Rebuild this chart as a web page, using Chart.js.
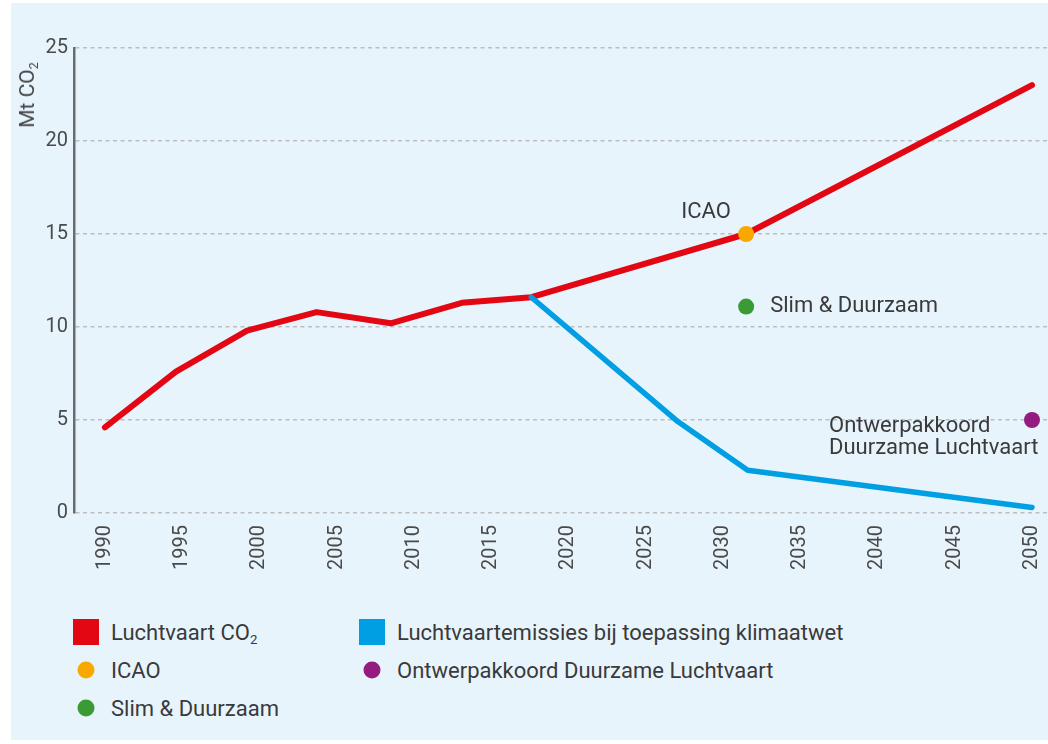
<!DOCTYPE html>
<html>
<head>
<meta charset="utf-8">
<script src="https://cdn.jsdelivr.net/npm/chart.js@4"></script>
<style>
  body { margin: 0; background: #fff; overflow: hidden; }
  #wrap { position: relative; width: 1048px; height: 744px; overflow: hidden; }
  #bg { position: absolute; left: 11px; top: 3px; width: 1037px; height: 737px; background: #e8f4fc; }
  #chart { position: absolute; left: 0; top: 0; }
  #ytitle {
    position: absolute; left: 27px; top: 95px; transform: translate(-50%, -50%) rotate(-90deg);
    font: 21px Roboto, sans-serif; color: #444; white-space: nowrap;
  }
  #ytitle sub, .lg sub { font-size: 60%; vertical-align: -4px; line-height: 0; }
  .lg { position: absolute; font: 22px Roboto, sans-serif; color: #3a3a3a; white-space: nowrap; transform: translateY(-50%); }
  .mk { position: absolute; transform: translate(-50%, -50%); }
</style>
</head>
<body>
<div id="wrap">
  <div id="bg"></div>
  <canvas id="chart" width="1057" height="600"></canvas>
  <div id="ytitle">Mt CO<sub>2</sub></div>
  <div id="legend"></div>
</div>
<script>
// tick labels
const yearTicks = [1990, 1995, 2000, 2005, 2010, 2015, 2020, 2025, 2030, 2035, 2040, 2045, 2050];

// Luchtvaart CO2 (red)
const redYears = [1990, 1994.6, 1999.2, 2003.7, 2008.5, 2013.1, 2017.6, 2031.5, 2050];
const redValues = [4.6, 7.6, 9.8, 10.8, 10.2, 11.3, 11.6, 15.0, 23.0];

// Luchtvaartemissies bij toepassing klimaatwet (blue)
const blueYears = [2017.6, 2027.1, 2031.6, 2050];
const blueValues = [11.6, 4.9, 2.3, 0.3];

// single points
const icaoPoint = { x: 2031.5, y: 15.0 };
const slimPoint = { x: 2031.5, y: 11.1 };
const ontwerpPoint = { x: 2050, y: 5.0 };

const RED = "#e30613", BLUE = "#009fe3", ORANGE = "#f9a800", GREEN = "#3a9b35", PURPLE = "#951b81";

const legendItems = [
    { text: "Luchtvaart CO<sub>2</sub>", color: RED, shape: "square", col: 0, row: 0 },
    { text: "Luchtvaartemissies bij toepassing klimaatwet", color: BLUE, shape: "square", col: 1, row: 0 },
    { text: "ICAO", color: ORANGE, shape: "circle", col: 0, row: 1 },
    { text: "Ontwerpakkoord Duurzame Luchtvaart", color: PURPLE, shape: "circle", col: 1, row: 1 },
    { text: "Slim &amp; Duurzaam", color: GREEN, shape: "circle", col: 0, row: 2 }
];

function toXY(xs, ys) {
    return xs.map((x, i) => ({ x: x, y: ys[i] }));
}

// text labels next to the points
const pointNotes = {
    id: "pointNotes",
    afterDatasetsDraw(chart) {
        const ctx = chart.ctx;
        const xs = chart.scales.x, ys = chart.scales.y;
        ctx.save();
        ctx.fillStyle = "#3a3a3a";
        ctx.font = "22px Roboto, sans-serif";
        ctx.textBaseline = "middle";

        ctx.textAlign = "center";
        ctx.fillText("ICAO", xs.getPixelForValue(icaoPoint.x) - 40, ys.getPixelForValue(icaoPoint.y) - 22);

        ctx.textAlign = "left";
        ctx.fillText("Slim & Duurzaam", xs.getPixelForValue(slimPoint.x) + 24, ys.getPixelForValue(slimPoint.y));

        let ox = xs.getPixelForValue(ontwerpPoint.x) - 203;
        let oy = ys.getPixelForValue(ontwerpPoint.y);
        ctx.fillText("Ontwerpakkoord", ox, oy + 6);
        ctx.fillText("Duurzame Luchtvaart", ox, oy + 28);
        ctx.restore();
    }
};

const tickFont = { family: "Roboto, sans-serif", size: 20 };

new Chart(document.getElementById("chart").getContext("2d"), {
    type: "line",
    data: {
        datasets: [
            {
                label: "Luchtvaart CO2",
                data: toXY(redYears, redValues),
                borderColor: RED,
                borderWidth: 6,
                pointRadius: 0,
                borderCapStyle: "round",
                borderJoinStyle: "round",
                order: 4
            },
            {
                label: "Luchtvaartemissies bij toepassing klimaatwet",
                data: toXY(blueYears, blueValues),
                borderColor: BLUE,
                borderWidth: 5.5,
                pointRadius: 0,
                borderCapStyle: "round",
                borderJoinStyle: "round",
                order: 3
            },
            {
                label: "ICAO",
                data: [icaoPoint],
                showLine: false,
                pointRadius: 8,
                pointBackgroundColor: ORANGE,
                pointBorderWidth: 0,
                order: 1
            },
            {
                label: "Slim & Duurzaam",
                data: [slimPoint],
                showLine: false,
                pointRadius: 8,
                pointBackgroundColor: GREEN,
                pointBorderWidth: 0,
                order: 1
            },
            {
                label: "Ontwerpakkoord Duurzame Luchtvaart",
                data: [ontwerpPoint],
                showLine: false,
                pointRadius: 8,
                pointBackgroundColor: PURPLE,
                pointBorderWidth: 0,
                order: 1
            }
        ]
    },
    options: {
        responsive: false,
        animation: false,
        layout: { padding: { top: 48, left: 0, right: 0, bottom: 0 } },
        plugins: {
            legend: { display: false },
            tooltip: { enabled: false }
        },
        scales: {
            x: {
                type: "linear",
                min: 1988,
                max: 2051.1,
                afterBuildTicks: scale => { scale.ticks = yearTicks.map(v => ({ value: v })); },
                afterFit: scale => { scale.height = 87; scale.paddingLeft = 0; scale.paddingRight = 0; },
                grid: { display: false, drawTicks: false },
                border: { display: false },
                ticks: {
                    autoSkip: false,
                    minRotation: 90,
                    maxRotation: 90,
                    padding: 12,
                    color: "#4a4a4a",
                    font: tickFont,
                    callback: v => String(v)
                }
            },
            y: {
                min: 0,
                max: 25,
                afterFit: scale => { scale.width = 74; },
                grid: {
                    color: "#bdbdbd",
                    lineWidth: 1.5,
                    drawTicks: false
                },
                border: { display: true, color: "#6b6b6b", width: 2.5, dash: [4, 3.5] },
                ticks: {
                    stepSize: 5,
                    padding: 6,
                    color: "#4a4a4a",
                    font: tickFont
                }
            }
        }
    },
    plugins: [pointNotes]
});

// legend below the chart
const legend = document.getElementById("legend");
const colX = [86, 372], rowY = [632, 670, 708];
legendItems.forEach(item => {
    let mk = document.createElement("div");
    mk.className = "mk";
    mk.style.left = colX[item.col] + "px";
    mk.style.top = rowY[item.row] + "px";
    mk.style.background = item.color;
    if (item.shape === "square") {
        mk.style.width = "26px";
        mk.style.height = "26px";
    } else {
        mk.style.width = "17px";
        mk.style.height = "17px";
        mk.style.borderRadius = "50%";
    }
    legend.appendChild(mk);

    let tx = document.createElement("div");
    tx.className = "lg";
    tx.style.left = (colX[item.col] + 25) + "px";
    tx.style.top = rowY[item.row] + "px";
    tx.innerHTML = item.text;
    legend.appendChild(tx);
});
</script>
</body>
</html>
